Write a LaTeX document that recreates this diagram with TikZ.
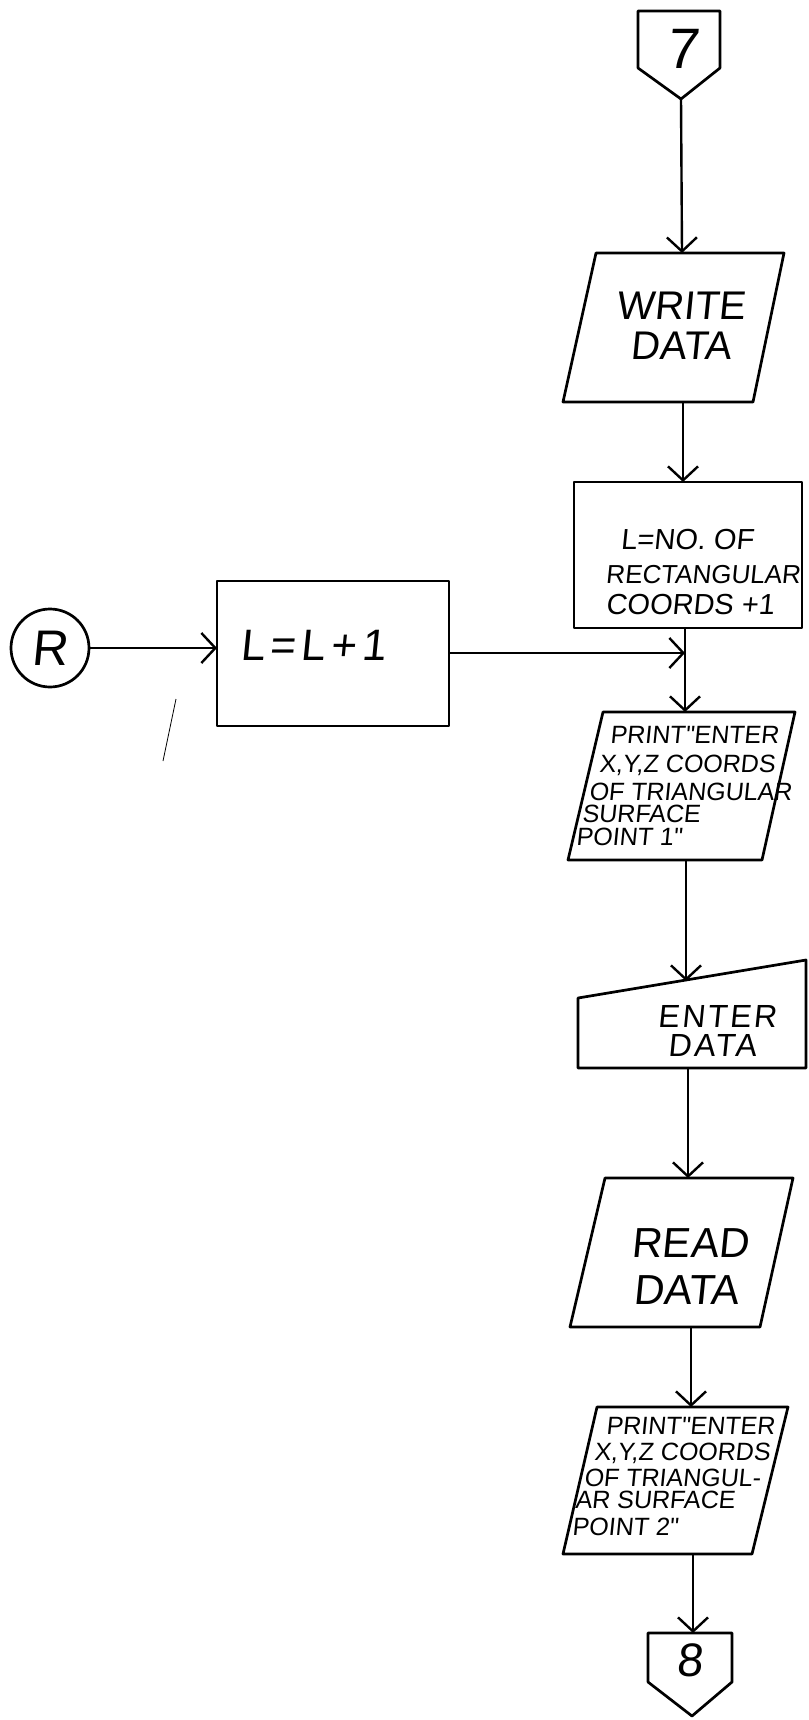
\documentclass[tikz,border=0pt]{standalone}
\usepackage{fontspec}
\setmainfont{Liberation Sans}
\newfontfamily\hand[FakeSlant=0.1]{Liberation Sans}
\usetikzlibrary{arrows.meta}
\begin{document}
\begin{tikzpicture}[x=1pt,y=-1pt,
  shp/.style={line width=2.7pt,line join=round},
  flow/.style={line width=2.4pt,-{Straight Barb[length=14pt,width=30pt,line width=2.4pt]}},
  plain/.style={line width=2.4pt},
  lbl/.style={inner sep=0pt,outer sep=0pt,font=\hand},
  boxnode/.style={draw,shp,inner sep=0pt,outer sep=0pt,anchor=north west}]
\useasboundingbox (0,0) rectangle (808,1720);
% off-page connector 7
\draw[shp] (638,11) -- (720,11) -- (720,68) -- (681,99) -- (638,68) -- cycle;
\coordinate (c7) at (681,99);
\node[lbl,font=\hand\fontsize{57}{57}\selectfont] (t7) at (682,49) {7};
% write data
\draw[shp] (596,253) -- (784,253) -- (753,402) -- (563,402) -- cycle;
\coordinate (wtop) at (682,253);
\coordinate (wbot) at (683,402);
\node[lbl,align=center,font=\hand\fontsize{40}{40}\selectfont] (twrite) at (681,326) {WRITE\\DATA};
% L = no. of rectangular coords + 1
\node[boxnode,minimum width=228pt,minimum height=146pt] (lno) at (574,482) {};
\node[lbl,font=\hand\fontsize{29}{29}\selectfont] (tl1) at (687,540) {L=NO. OF};
\node[lbl,font=\hand\fontsize{26}{26}\selectfont] (tl2) at (703,575) {RECTANGULAR};
\node[lbl,font=\hand\fontsize{29}{29}\selectfont] (tl3) at (690,605) {COORDS +1};
\coordinate (lnobot) at (685,628);
\coordinate (j) at (685,653);
% R connector and L=L+1
\node[draw,circle,shp,minimum size=78pt,inner sep=0pt,outer sep=0pt,font=\hand\fontsize{50}{50}\selectfont] (r) at (50,648) {R};
\node[boxnode,minimum width=232pt,minimum height=145pt] (inc) at (217,581) {};
\node[lbl,font=\hand\fontsize{44}{44}\selectfont\addfontfeature{LetterSpace=12}] (tinc) at (313,645) {L=L+1};
% print 1
\draw[shp] (603,712) -- (795,712) -- (762,860) -- (568,860) -- cycle;
\coordinate (p1top) at (685,712);
\coordinate (p1bot) at (686,860);
\begin{scope}[every node/.style={lbl,anchor=west,font=\hand\fontsize{25}{25}\selectfont}]
\node (pa1) at (610,735) {PRINT"ENTER};
\node (pa2) at (599,765) {X,Y,Z COORDS};
\node (pa3) at (589,792) {OF TRIANGULAR};
\node (pa4) at (582,814) {SURFACE};
\node (pa5) at (576,837) {POINT 1"};
\end{scope}
% enter data
\draw[shp] (578,998) -- (806,960) -- (806,1068) -- (578,1068) -- cycle;
\coordinate (etop) at (686,981);
\coordinate (ebot) at (688,1068);
\node[lbl,font=\hand\fontsize{32}{32}\selectfont\addfontfeature{LetterSpace=8}] (te1) at (717,1016) {ENTER};
\node[lbl,font=\hand\fontsize{32}{32}\selectfont\addfontfeature{LetterSpace=8}] (te2) at (712,1045) {DATA};
% read data
\draw[shp] (605,1178) -- (793,1178) -- (760,1327) -- (570,1327) -- cycle;
\coordinate (rtop) at (688,1178);
\coordinate (rbot) at (691,1327);
\node[lbl,font=\hand\fontsize{42}{42}\selectfont] (tr1) at (690,1243) {READ};
\node[lbl,font=\hand\fontsize{42}{42}\selectfont] (tr2) at (686,1290) {DATA};
% print 2
\draw[shp] (597,1407) -- (788,1407) -- (752,1554) -- (563,1554) -- cycle;
\coordinate (p2top) at (691,1407);
\coordinate (p2bot) at (693,1554);
\begin{scope}[every node/.style={lbl,anchor=west,font=\hand\fontsize{25}{25}\selectfont}]
\node (pb1) at (606,1426) {PRINT"ENTER};
\node (pb2) at (594,1453) {X,Y,Z COORDS};
\node (pb3) at (584,1478) {OF TRIANGUL-};
\node (pb4) at (575,1500) {AR SURFACE};
\node (pb5) at (572,1527) {POINT 2"};
\end{scope}
% off-page connector 8
\draw[shp] (648,1633) -- (732,1633) -- (732,1682) -- (692,1716) -- (648,1682) -- cycle;
\coordinate (c8) at (693,1633);
\node[lbl,font=\hand\fontsize{47}{47}\selectfont] (t8) at (690,1660) {8};
% connectors
\draw[flow] (c7) -- (wtop);
\draw[flow] (wbot) -- (wbot |- lno.north);
\draw[plain] (lnobot) -- (j);
\draw[flow] (j) -- (p1top);
\draw[flow] (r.east) -- (r.east -| inc.west);
\draw[flow] (inc.east |- j) -- (j);
\draw[flow] (p1bot) -- (etop);
\draw[flow] (ebot) -- (rtop);
\draw[flow] (rbot) -- (p2top);
\draw[flow] (p2bot) -- (c8);
% stray pencil mark
\draw[line width=0.8pt] (176,699) -- (163,761);
\end{tikzpicture}
\end{document}
